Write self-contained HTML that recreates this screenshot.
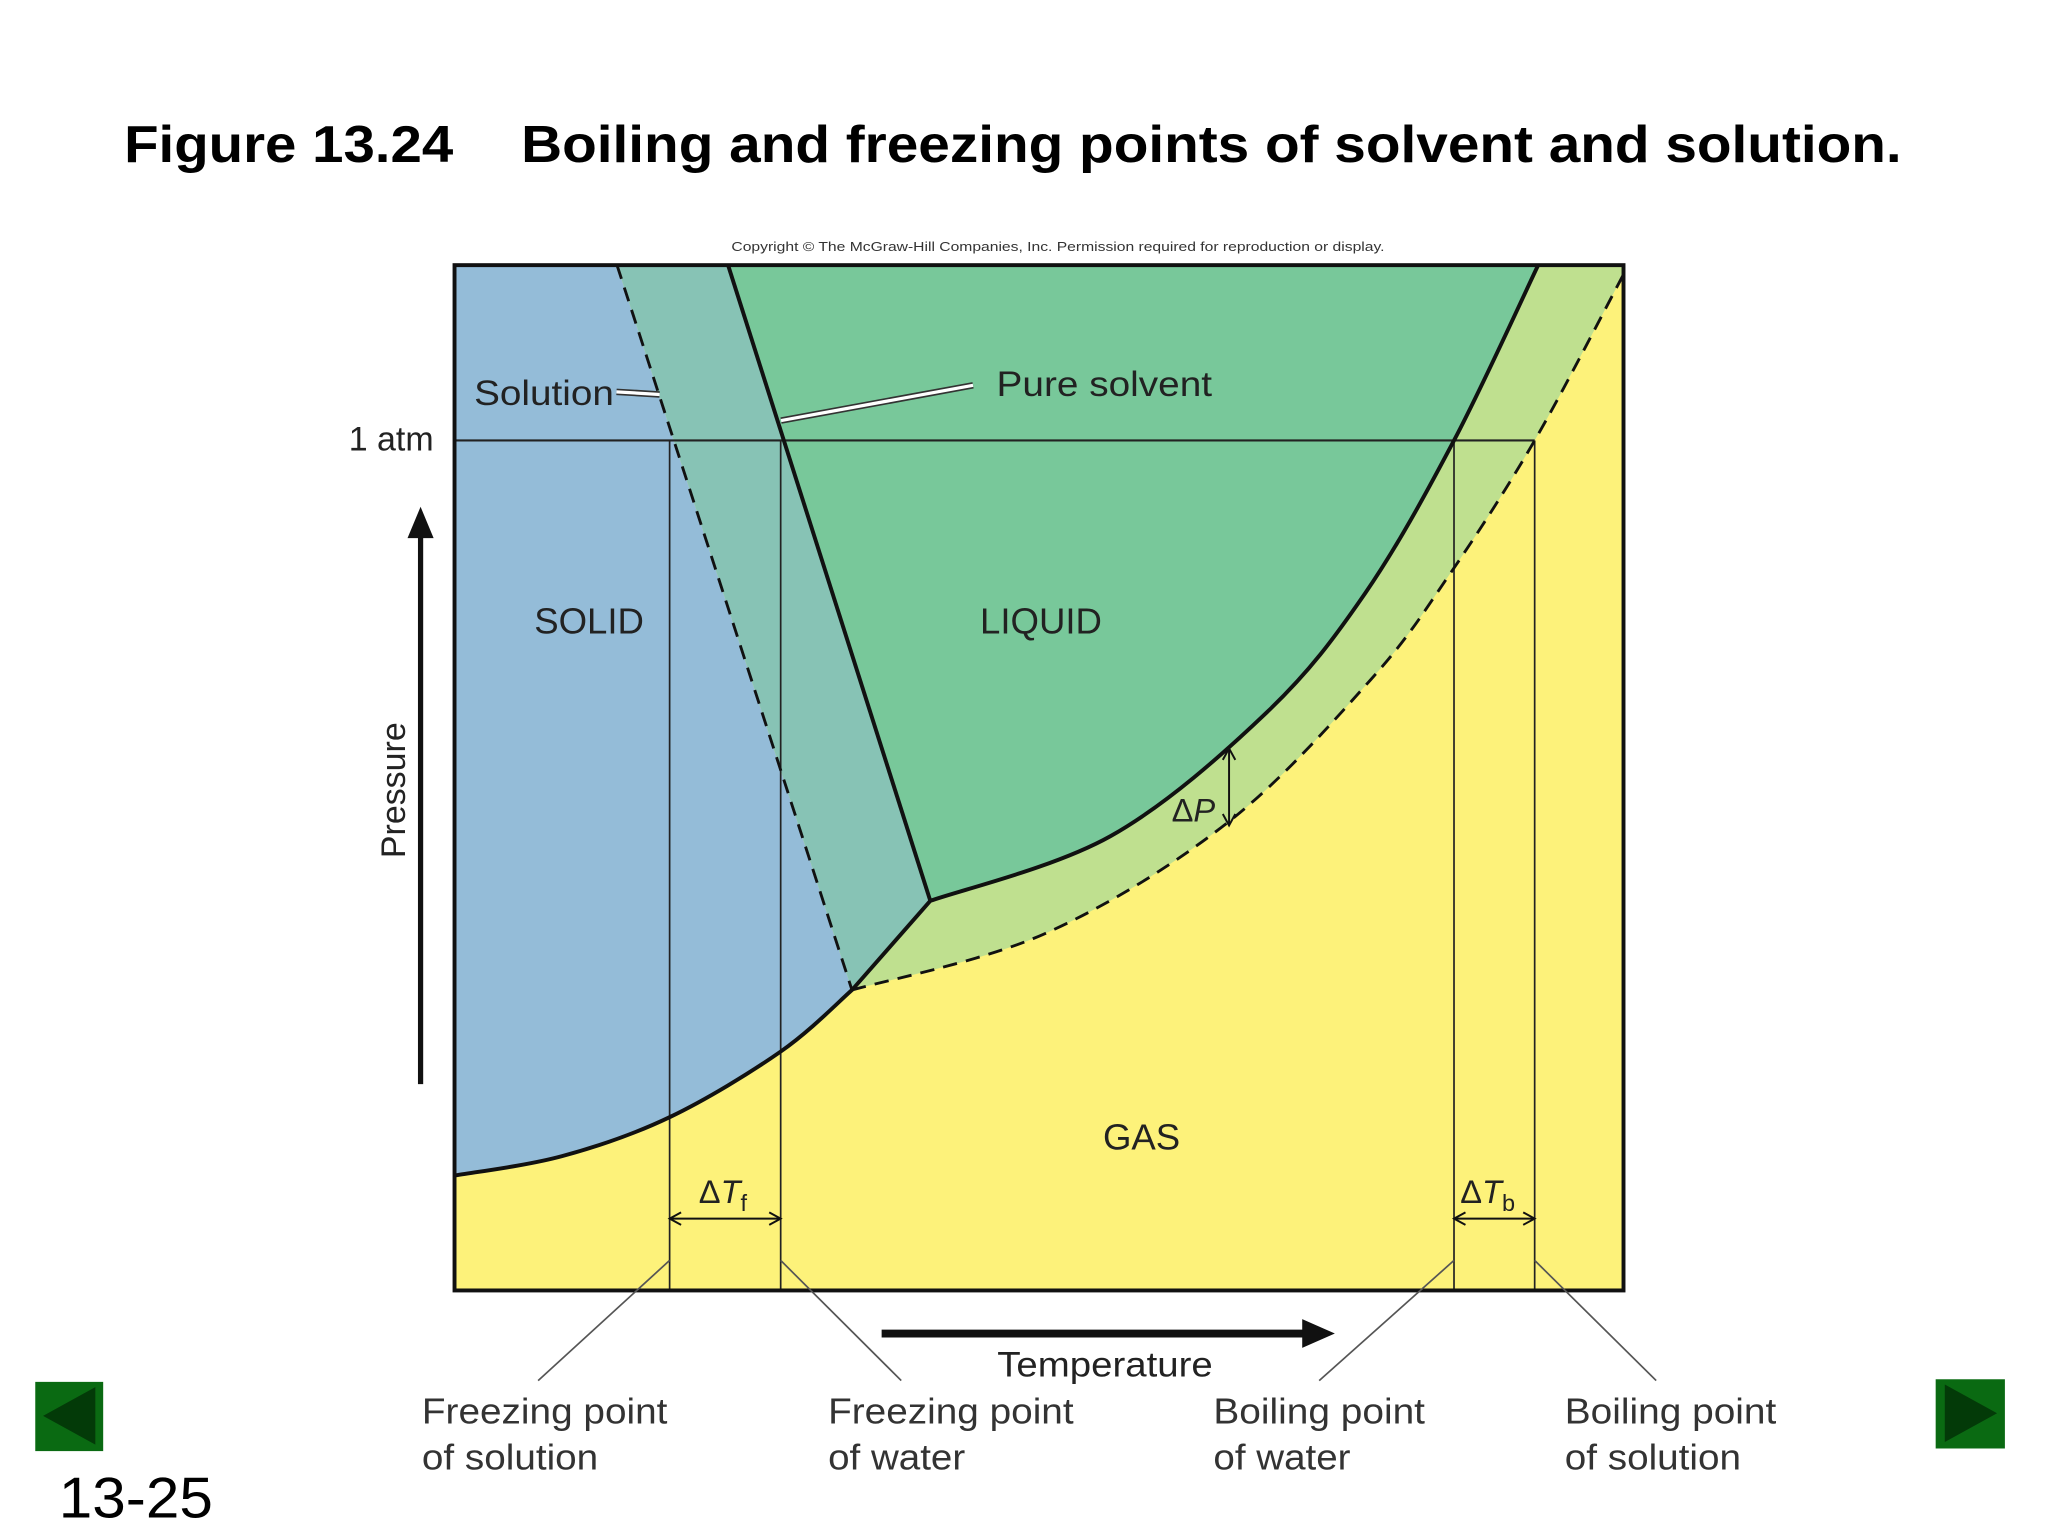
<!DOCTYPE html>
<html><head><meta charset="utf-8"><style>
html,body{margin:0;padding:0;background:#fff;}
svg{display:block;font-family:"Liberation Sans",sans-serif;}
</style></head><body>
<svg id="chart" width="2048" height="1536" viewBox="0 0 1568 1176" xmlns="http://www.w3.org/2000/svg">
<rect x="0" y="0" width="1568" height="1176" fill="#fff"/>
<text x="95" y="124" font-size="40" font-weight="bold" textLength="252" lengthAdjust="spacingAndGlyphs">Figure 13.24</text>
<text x="399" y="124" font-size="40" font-weight="bold" textLength="1057" lengthAdjust="spacingAndGlyphs">Boiling and freezing points of solvent and solution.</text>
<text x="560" y="192" font-size="10" fill="#333" textLength="500" lengthAdjust="spacingAndGlyphs">Copyright © The McGraw-Hill Companies, Inc. Permission required for reproduction or display.</text>
<g id="plot"></g>
<text x="332" y="345" font-size="26" text-anchor="end" fill="#222">1 atm</text>
<line x1="322" y1="830" x2="322" y2="410" stroke="#111" stroke-width="4"/>
<polygon points="322,388 312,412 332,412" fill="#111"/>
<text transform="translate(310,605) rotate(-90)" font-size="26" text-anchor="middle" fill="#222">Pressure</text>
<line x1="675" y1="1021" x2="1000" y2="1021" stroke="#111" stroke-width="6"/>
<polygon points="1022,1021 997,1010 997,1032" fill="#111"/>
<text x="846" y="1054" font-size="27" text-anchor="middle" fill="#222" textLength="165" lengthAdjust="spacingAndGlyphs">Temperature</text>
<g font-size="28" fill="#333">
<text x="323" y="1090" textLength="188" lengthAdjust="spacingAndGlyphs">Freezing point</text>
<text x="323" y="1125" textLength="135" lengthAdjust="spacingAndGlyphs">of solution</text>
<text x="634" y="1090" textLength="188" lengthAdjust="spacingAndGlyphs">Freezing point</text>
<text x="634" y="1125" textLength="105" lengthAdjust="spacingAndGlyphs">of water</text>
<text x="929" y="1090" textLength="162" lengthAdjust="spacingAndGlyphs">Boiling point</text>
<text x="929" y="1125" textLength="105" lengthAdjust="spacingAndGlyphs">of water</text>
<text x="1198" y="1090" textLength="162" lengthAdjust="spacingAndGlyphs">Boiling point</text>
<text x="1198" y="1125" textLength="135" lengthAdjust="spacingAndGlyphs">of solution</text>
</g>
<g>
<rect x="27" y="1058" width="52" height="53" fill="#0a6a12"/>
<polygon points="33,1084 73,1062 73,1106" fill="#033a08"/>
</g>
<g>
<rect x="1482" y="1056" width="53" height="53" fill="#0a6a12"/>
<polygon points="1529,1082 1489,1060 1489,1104" fill="#033a08"/>
</g>
<text x="45" y="1162" font-size="44" fill="#000" textLength="118" lengthAdjust="spacingAndGlyphs">13-25</text>
</svg>
<script>
// domain: temperature 0..100, pressure 0..100 (arbitrary units)
const sublimationT = [0, 9.2, 18.4, 27.9, 34.0];
const sublimationP = [11.2, 13.1, 16.9, 23.3, 29.3];
const pureVaporT = [40.7, 56.1, 69.5, 77.9, 85.5, 92.7];
const pureVaporP = [38.0, 44.3, 56.4, 68.0, 82.9, 100];
const solVaporT = [34.0, 50.5, 66.1, 78.4, 85.1, 92.4, 100];
const solVaporP = [29.3, 34.8, 45.6, 59.6, 69.8, 82.9, 99.1];
const pureFusionTopT = 23.4;
const solFusionTopT = 13.9;
const oneAtmP = 82.9;
const freezeSolT = 18.4, freezePureT = 27.9, boilPureT = 85.5, boilSolT = 92.4;

const X0=348,X1=1243,Y0=988,Y1=203;
const xs=t=>X0+(X1-X0)*t/100;
const ys=p=>Y0-(Y0-Y1)*p/100;
const NS='http://www.w3.org/2000/svg';
const plot=document.getElementById('plot');
function el(tag,attrs){const e=document.createElementNS(NS,tag);for(const k in attrs)e.setAttribute(k,attrs[k]);plot.appendChild(e);return e;}
function pts(T,P){return T.map((t,i)=>[xs(t),ys(P[i])]);}
function smooth(p){let d='';for(let i=0;i<p.length-1;i++){const a=p[i-1]||p[i],b=p[i],c=p[i+1],e=p[i+2]||c;
const c1=[b[0]+(c[0]-a[0])/6,b[1]+(c[1]-a[1])/6],c2=[c[0]-(e[0]-b[0])/6,c[1]-(e[1]-b[1])/6];
d+=' C'+c1.join(',')+' '+c2.join(',')+' '+c.join(',');}return d;}
function M(p){return 'M'+p[0]+','+p[1];}
const sub=pts(sublimationT,sublimationP);
const pv=pts(pureVaporT,pureVaporP);
const sv=pts(solVaporT,solVaporP);
const tpS=sub[sub.length-1], tpP=pv[0];
const pfTop=[xs(pureFusionTopT),Y1], sfTop=[xs(solFusionTopT),Y1];

let r=el('rect',{x:X0,y:Y1,width:X1-X0,height:Y0-Y1,fill:'#fdf27a'});

let d=M([X0,Y1])+' L'+sfTop.join(',')+' L'+tpS.join(',');
const subRev=sub.slice().reverse();
d+=smooth(subRev)+' Z';
r=el('path',{d:d,fill:'#94bcd8'});

r=el('path',{d:M(sfTop)+' L'+pfTop.join(',')+' L'+tpP.join(',')+' L'+tpS.join(',')+' Z',fill:'#87c3b5'});

r=el('path',{d:M(pfTop)+' L'+pv[pv.length-1].join(',')+smooth(pv.slice().reverse())+' Z',fill:'#78c89a'});

r=el('path',{d:M(pv[pv.length-1])+' L'+X1+','+Y1+' L'+sv[sv.length-1].join(',')+smooth(sv.slice().reverse())+' L'+tpP.join(',')+smooth(pv)+' Z',fill:'#bfe08f'});

r=el('line',{x1:X0,y1:ys(oneAtmP),x2:xs(boilSolT),y2:ys(oneAtmP),stroke:'#222','stroke-width':1.6});

[freezeSolT,freezePureT,boilPureT,boilSolT].forEach((t,i)=>{
 const v=el('line',{x1:xs(t),y1:ys(oneAtmP),x2:xs(t),y2:Y0,stroke:'#222','stroke-width':1.3});
 
 
});
r=el('path',{d:M(sub[0])+smooth(sub)+' L'+tpP.join(','),fill:'none',stroke:'#111','stroke-width':3});

r=el('path',{d:M(pv[0])+smooth(pv),fill:'none',stroke:'#111','stroke-width':3});

r=el('line',{x1:pfTop[0],y1:pfTop[1],x2:tpP[0],y2:tpP[1],stroke:'#111','stroke-width':3});

r=el('path',{d:M(sv[0])+smooth(sv),fill:'none',stroke:'#111','stroke-width':2.2,'stroke-dasharray':'11,7'});

r=el('line',{x1:sfTop[0],y1:sfTop[1],x2:tpS[0],y2:tpS[1],stroke:'#111','stroke-width':2.2,'stroke-dasharray':'11,7'});

r=el('rect',{x:X0,y:Y1,width:X1-X0,height:Y0-Y1,fill:'none',stroke:'#111','stroke-width':3});

function darrow(x1,y1,x2,y2,name){
 const g=el('line',{x1:x1,y1:y1,x2:x2,y2:y2,stroke:'#111','stroke-width':1.5});
 
 
 const ang=Math.atan2(y2-y1,x2-x1);
 [[x1,y1,ang+Math.PI],[x2,y2,ang]].forEach(([x,y,a])=>{
  const h=el('path',{d:'M'+(x-10*Math.cos(a-0.5))+','+(y-10*Math.sin(a-0.5))+' L'+x+','+y+' L'+(x-10*Math.cos(a+0.5))+','+(y-10*Math.sin(a+0.5)),fill:'none',stroke:'#111','stroke-width':1.5});
  
  
 });
}
darrow(xs(freezeSolT),933,xs(freezePureT),933,'delta-tf-arrow');
darrow(xs(boilPureT),933,xs(boilSolT),933,'delta-tb-arrow');
darrow(941,573,941,632,'delta-p-arrow');
[[freezeSolT,412],[freezePureT,690],[boilPureT,1010],[boilSolT,1268]].forEach(([t,x2],i)=>{
 const l=el('line',{x1:xs(t),y1:965,x2:x2,y2:1057,stroke:'#555','stroke-width':1.3});
 
 
});
[[472,300,505,302],[598,322,745,295]].forEach((c,i)=>{
 const a=el('line',{x1:c[0],y1:c[1],x2:c[2],y2:c[3],stroke:'#333','stroke-width':5});
 
 
 const b=el('line',{x1:c[0],y1:c[1],x2:c[2],y2:c[3],stroke:'#fff','stroke-width':2.5});
 
 
});
function txt(x,y,s,size,name,anchor,len){const t=el('text',{x:x,y:y,'font-size':size,fill:'#222','text-anchor':anchor||'start'});t.textContent=s;
 if(len){t.setAttribute('textLength',len);t.setAttribute('lengthAdjust','spacingAndGlyphs');}
 
 return t;}
txt(363,310,'Solution',27,'solution-label','start',107);
txt(763,303,'Pure solvent',27,'pure-solvent-label','start',165);
txt(451,485,'SOLID',28,'solid-label','middle');
txt(797,485,'LIQUID',28,'liquid-label','middle');
txt(874,880,'GAS',28,'gas-label','middle');
const tf=txt(535,921,'ΔT',25,'delta-tf-label');tf.innerHTML='Δ<tspan font-style="italic">T</tspan><tspan font-size="18" dy="6">f</tspan>';
const tb=txt(1118,921,'ΔT',25,'delta-tb-label');tb.innerHTML='Δ<tspan font-style="italic">T</tspan><tspan font-size="18" dy="6">b</tspan>';
const dp=txt(897,629,'ΔP',25,'delta-p-label');dp.innerHTML='Δ<tspan font-style="italic">P</tspan>';
</script>
</body></html>
